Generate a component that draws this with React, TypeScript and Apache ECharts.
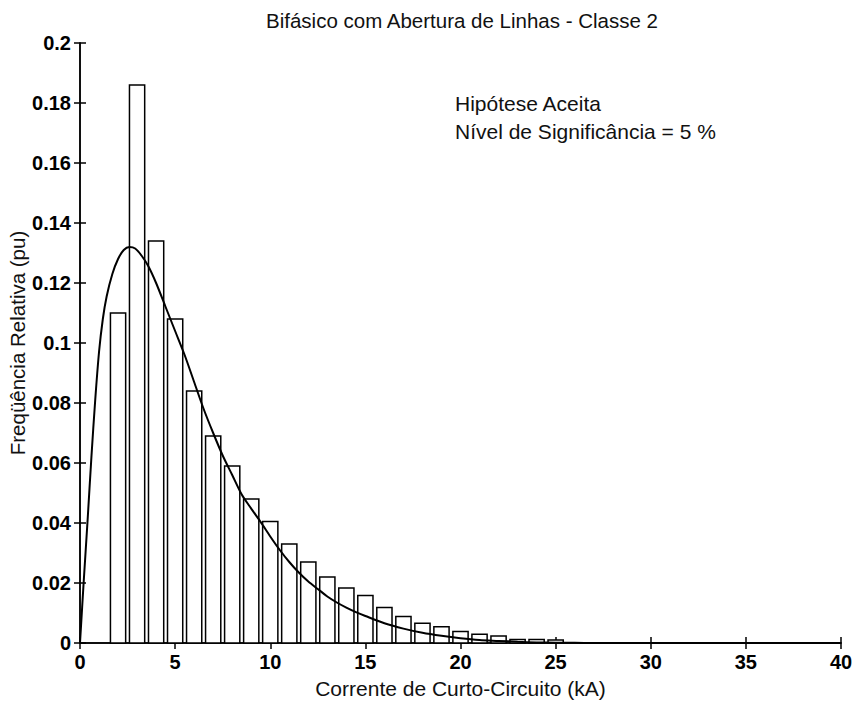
import React, { useEffect, useRef } from "react";
import * as echarts from "echarts";

const titleText = "Bifásico com Abertura de Linhas - Classe 2";
const xName = "Corrente de Curto-Circuito (kA)";
const yName = "Freqüência Relativa (pu)";
const noteLines = ["Hipótese Aceita", "Nível de Significância = 5 %"];

// histogram bins (kA) and relative frequency (pu)
const binCenters = [2, 3, 4, 5, 6, 7, 8, 9, 10, 11, 12, 13, 14, 15, 16, 17, 18, 19, 20, 21, 22, 23, 24, 25];
const relFreq = [
  0.110, 0.186, 0.134, 0.108, 0.084, 0.069, 0.059, 0.048, 0.0405, 0.033, 0.027, 0.022,
  0.0183, 0.0158, 0.0118, 0.0088, 0.0066, 0.0054, 0.0038, 0.0029, 0.0023, 0.0012, 0.0012, 0.0010,
];
const BAR_WIDTH = 0.8;

// fitted density curve
const curveX = [
  0, 0.2, 0.4, 0.6, 0.8, 1.0, 1.2, 1.4, 1.7, 2.0, 2.3, 2.6, 2.9, 3.25, 3.6, 4.0, 4.5, 5.0, 5.5,
  6.0, 6.5, 7.0, 7.5, 8.0, 8.5, 9.0, 9.5, 10, 10.5, 11, 11.5, 12, 12.5, 13, 13.5, 14, 14.5, 15,
  16, 17, 18, 19, 20, 21, 22, 23, 24, 25, 26, 27, 40,
];
const curveY = [
  0, 0.021, 0.041, 0.062, 0.081, 0.097, 0.108, 0.1155, 0.123, 0.128, 0.131, 0.132, 0.1315, 0.129,
  0.1255, 0.12, 0.112, 0.104, 0.096, 0.087, 0.078, 0.07, 0.0625, 0.056, 0.0495, 0.0448, 0.0403,
  0.0355, 0.031, 0.027, 0.0235, 0.0205, 0.018, 0.0155, 0.0135, 0.0118, 0.0103, 0.009, 0.0066,
  0.0048, 0.0034, 0.0024, 0.0016, 0.001, 0.0007, 0.0004, 0.0002, 0.0001, 0.00005, 0, 0,
];

const xTicks = { min: 0, max: 40, interval: 5 };
const yTicks = { min: 0, max: 0.2, interval: 0.02 };

const FONT = "Liberation Sans, Arial, sans-serif";

export default function App() {
  const ref = useRef<HTMLDivElement>(null);
  useEffect(() => {
    document.body.style.margin = "0";
    const chart = echarts.init(ref.current!, null, { renderer: "svg" });
    const axisLine = { show: true, lineStyle: { color: "#000", width: 1.5 } };
    const axisTick = { show: true, inside: true, length: 6, lineStyle: { color: "#000", width: 1.5 } };
    const label = { color: "#000", fontSize: 20, fontWeight: "bold" as const, fontFamily: FONT };
    chart.setOption({
      animation: false,
      backgroundColor: "#fff",
      title: {
        text: titleText,
        left: 457,
        textAlign: "center",
        top: 5,
        textStyle: { color: "#111", fontSize: 20.5, fontWeight: "normal", fontFamily: FONT },
      },
      grid: { left: 80, right: 17, top: 43, bottom: 61, containLabel: false, outerBoundsMode: "none" },
      xAxis: [
        {
          type: "value",
          ...xTicks,
          position: "bottom",
          axisLine,
          axisTick,
          splitLine: { show: false },
          axisLabel: { ...label, margin: 9 },
          name: xName,
          nameLocation: "middle",
          nameGap: 35,
          nameMoveOverlap: false,
          nameTextStyle: { color: "#111", fontSize: 21, fontFamily: FONT, verticalAlign: "top" },
        },
        {
          type: "value",
          ...xTicks,
          position: "top",
          axisLine,
          axisTick,
          splitLine: { show: false },
          axisLabel: { show: false },
        },
      ],
      yAxis: [
        {
          type: "value",
          ...yTicks,
          position: "left",
          axisLine,
          axisTick,
          splitLine: { show: false },
          axisLabel: {
            ...label,
            margin: 9,
            formatter: (v: number) => String(+v.toFixed(2)),
          },
          name: yName,
          nameLocation: "middle",
          nameGap: 52,
          nameMoveOverlap: false,
          nameTextStyle: { color: "#111", fontSize: 20.5, fontFamily: FONT },
        },
        {
          type: "value",
          ...yTicks,
          position: "right",
          axisLine,
          axisTick,
          splitLine: { show: false },
          axisLabel: { show: false },
        },
      ],
      graphic: noteLines.map((t, i) => ({
        type: "text",
        left: 455,
        top: 93 + i * 28,
        style: { text: t, fill: "#111", fontSize: 21, fontFamily: FONT },
      })),
      series: [
        {
          type: "custom",
          xAxisIndex: 0,
          yAxisIndex: 0,
          data: binCenters.map((c, i) => [c, relFreq[i]]),
          renderItem: (params: any, api: any) => {
            const x = api.value(0);
            const y = api.value(1);
            const p0 = api.coord([x - BAR_WIDTH / 2, y]);
            const p1 = api.coord([x + BAR_WIDTH / 2, 0]);
            return {
              type: "rect",
              shape: { x: p0[0], y: p0[1], width: p1[0] - p0[0], height: p1[1] - p0[1] },
              style: { fill: "#fff", stroke: "#000", lineWidth: 1.5 },
            };
          },
          z: 2,
        },
        {
          type: "line",
          xAxisIndex: 0,
          yAxisIndex: 0,
          data: curveX.map((x, i) => [x, curveY[i]]),
          showSymbol: false,
          smooth: 0.3,
          lineStyle: { color: "#000", width: 2 },
          z: 3,
        },
      ],
    });
    return () => chart.dispose();
  }, []);
  return <div ref={ref} style={{ width: 858, height: 704 }} />;
}
